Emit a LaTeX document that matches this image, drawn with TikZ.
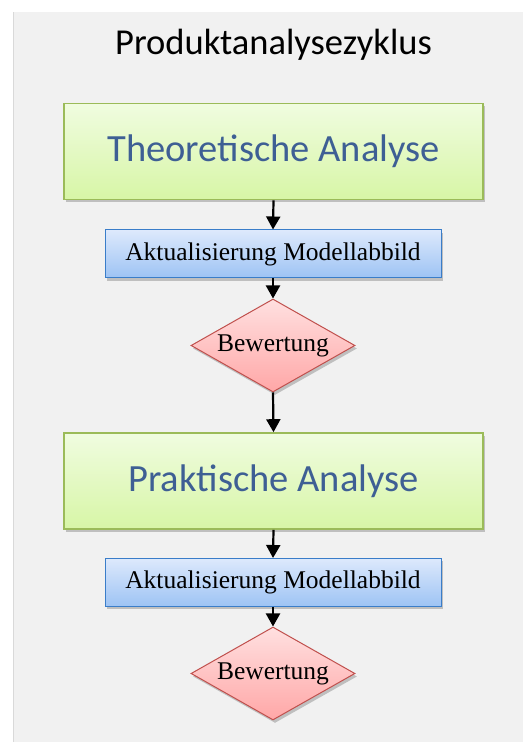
\documentclass[tikz,border=0pt]{standalone}
\usepackage{fontspec}
\setmainfont{Carlito}
\newfontfamily\serifbox{Liberation Serif}
\usetikzlibrary{shapes.geometric,shadows,arrows.meta,shadings}
\definecolor{panelgray}{HTML}{F1F1F1}
\definecolor{greenborder}{HTML}{9BBB59}
\definecolor{greentop}{HTML}{F0FCE0}
\definecolor{greenbot}{HTML}{D7F6A6}
\definecolor{greentext}{HTML}{3E5F94}
\definecolor{bluetop}{HTML}{DDE9FC}
\definecolor{bluebot}{HTML}{9DC3F4}
\definecolor{blueborder}{HTML}{3A7DC9}
\definecolor{redtop}{HTML}{FFE0E0}
\definecolor{redbot}{HTML}{FFA7A7}
\definecolor{redborder}{HTML}{C0504D}
\tikzset{
  x=1pt,y=1pt,
  myshadow/.style={drop shadow={opacity=0.3,shadow xshift=2pt,shadow yshift=-3pt,fill=black!70}},
  phasebox/.style={rectangle,draw=greenborder,line width=1.6pt,top color=greentop,bottom color=greenbot,
    minimum width=419pt,minimum height=96pt,inner sep=0pt,myshadow,
    text=greentext,font=\fontsize{38.5}{44}\selectfont},
  updatebox/.style={rectangle,draw=blueborder,line width=1pt,top color=bluetop,bottom color=bluebot,
    minimum width=336pt,minimum height=48pt,inner sep=0pt,myshadow,
    font=\serifbox\fontsize{25.5}{30}\selectfont},
  evalbox/.style={diamond,shape aspect=1.76,draw=redborder,line width=1pt,top color=redtop,bottom color=redbot,
    minimum width=164pt,minimum height=93pt,inner sep=0pt,myshadow,
    font=\serifbox\fontsize{25.5}{30}\selectfont},
  flow/.style={-{Triangle[width=14pt,length=13pt]},line width=2.2pt,black},
  titletext/.style={font=\fontsize{36.5}{42}\selectfont,text=black}
}
\begin{document}
\begin{tikzpicture}
\useasboundingbox (0,0) rectangle (523,742);
\fill[white] (0,0) rectangle (523,742);
\fill[panelgray] (13,0) rectangle (523,730);
\draw[black!15,line width=1.2pt] (13.6,0) -- (13.6,730);
\node[titletext] (title) at (273.5,697) {Produktanalysezyklus};
\node[phasebox] (theo) at (273.5,590.5) {Theoretische Analyse};
\node[updatebox] (upd1) at (273,488) {Aktualisierung Modellabbild};
\node[evalbox] (eval1) at (273,396.5) {Bewertung};
\node[phasebox] (prak) at (273.5,261) {Praktische Analyse};
\node[updatebox] (upd2) at (273,159.5) {Aktualisierung Modellabbild};
\node[evalbox] (eval2) at (273,68.5) {Bewertung};
\draw[flow] (theo.south) -- (upd1.north);
\draw[flow] (upd1.south) -- (eval1.north);
\draw[flow] (eval1.south) -- (prak.north);
\draw[flow] (prak.south) -- (upd2.north);
\draw[flow] (upd2.south) -- (eval2.north);
\end{tikzpicture}
\end{document}
